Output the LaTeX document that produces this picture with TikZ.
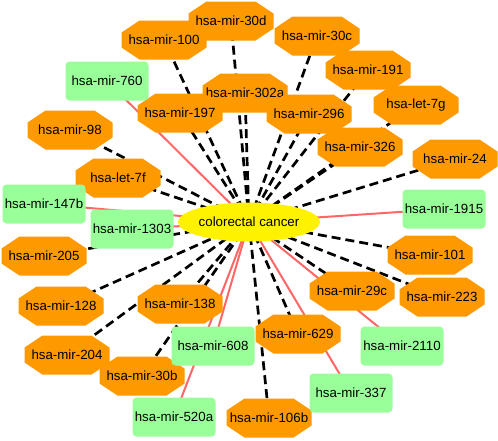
\documentclass[tikz,border=0pt]{standalone}
\usepackage{fontspec}
\setmainfont{Liberation Sans}
\usetikzlibrary{shapes.geometric,backgrounds}
\definecolor{octfill}{RGB}{255,153,0}
\definecolor{rectfill}{RGB}{153,255,153}
\definecolor{redline}{RGB}{255,102,102}
\tikzset{
  lbl/.style={font=\fontsize{13.3}{15}\selectfont, text=black},
  oct/.style={lbl, rectangle, minimum width=85pt, minimum height=39pt, inner sep=0pt,
    path picture={\fill[octfill]
      ([xshift=18pt]path picture bounding box.north west) --
      ([xshift=-18pt]path picture bounding box.north east) --
      ([yshift=-12pt]path picture bounding box.north east) --
      ([yshift=12pt]path picture bounding box.south east) --
      ([xshift=-18pt]path picture bounding box.south east) --
      ([xshift=18pt]path picture bounding box.south west) --
      ([yshift=12pt]path picture bounding box.south west) --
      ([yshift=-12pt]path picture bounding box.north west) -- cycle;}},
  gbox/.style={lbl, rectangle, rounded corners=4pt, fill=rectfill, minimum width=83pt, minimum height=39pt, inner sep=0pt},
  hub/.style={lbl, ellipse, fill=yellow, minimum width=112pt, minimum height=39pt, inner sep=0pt},
  dashedge/.style={black, line width=2.7pt, dash pattern=on 9pt off 5pt},
  redge/.style={redline, line width=2pt}
}
\begin{document}
\begin{tikzpicture}[x=1pt,y=-1pt]
\useasboundingbox (0,0) rectangle (498,440);
% octagon nodes
\node[oct] (m30d) at (231,21) {hsa-mir-30d};
\node[oct] (m100) at (164,40) {hsa-mir-100};
\node[oct] (m30c) at (317,36) {hsa-mir-30c};
\node[oct] (m191) at (368,70) {hsa-mir-191};
\node[oct] (m302a) at (245,93) {hsa-mir-302a};
\node[oct] (m197) at (180,113) {hsa-mir-197};
\node[oct] (m296) at (309,114) {hsa-mir-296};
\node[oct] (let7g) at (416,105) {hsa-let-7g};
\node[oct] (m98) at (70,130) {hsa-mir-98};
\node[oct] (m326) at (360,147) {hsa-mir-326};
\node[oct] (m24) at (455,159) {hsa-mir-24};
\node[oct] (let7f) at (118,178) {hsa-let-7f};
\node[oct] (m205) at (44,256) {hsa-mir-205};
\node[oct] (m101) at (430,255) {hsa-mir-101};
\node[oct] (m128) at (61,306) {hsa-mir-128};
\node[oct] (m138) at (180,304) {hsa-mir-138};
\node[oct] (m29c) at (352,291) {hsa-mir-29c};
\node[oct] (m223) at (442,297) {hsa-mir-223};
\node[oct] (m629) at (298,334) {hsa-mir-629};
\node[oct] (m204) at (67,355) {hsa-mir-204};
\node[oct] (m30b) at (142,376) {hsa-mir-30b};
\node[oct] (m106b) at (269,418) {hsa-mir-106b};
% green nodes
\node[gbox] (m760) at (107,81) {hsa-mir-760};
\node[gbox] (m147b) at (44,204) {hsa-mir-147b};
\node[gbox] (m1303) at (132,229) {hsa-mir-1303};
\node[gbox] (m1915) at (444,209) {hsa-mir-1915};
\node[gbox] (m608) at (213,346) {hsa-mir-608};
\node[gbox] (m2110) at (402,346) {hsa-mir-2110};
\node[gbox] (m337) at (351,393) {hsa-mir-337};
\node[gbox] (m520a) at (174,417) {hsa-mir-520a};
% hub
\node[hub] (cc) at (249,222) {colorectal cancer};
\begin{scope}[on background layer]
  \fill[white] (0,0) rectangle (498,440);
  \foreach \t in {m100,m30d,m30c,m191,m302a,m197,m296,let7g,m98,m326,m24,let7f,m205,m101,m128,m138,m29c,m223,m629,m204,m30b,m106b}
    \draw[dashedge] (cc.center) -- (\t.center);
  \foreach \t in {m760,m147b,m1303,m1915,m608,m2110,m337,m520a}
    \draw[redge] (cc.center) -- (\t.center);
\end{scope}
\end{tikzpicture}
\end{document}
